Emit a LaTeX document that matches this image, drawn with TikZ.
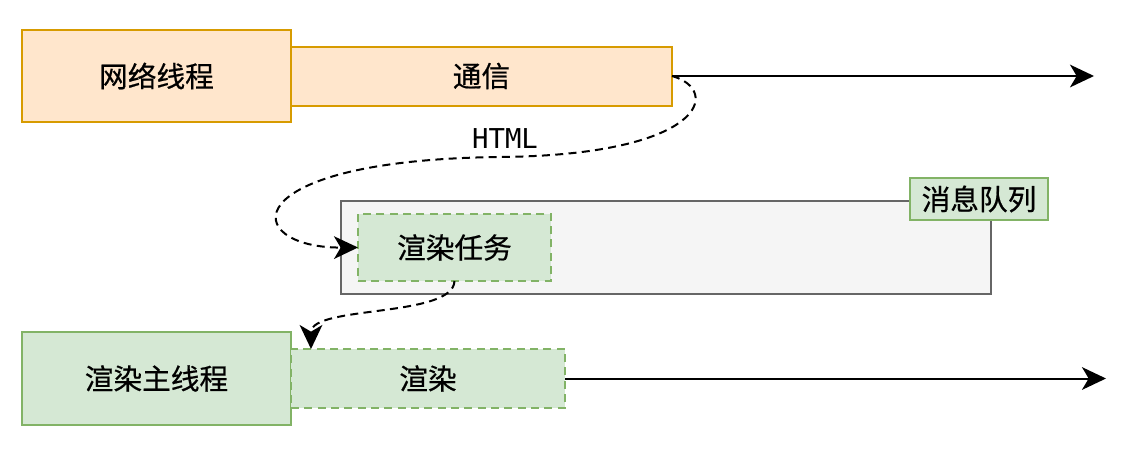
\documentclass[tikz,border=0pt]{standalone}
\usepackage{fontspec}
\setmainfont{Noto Sans CJK SC}[FakeBold=0.6]
\newfontfamily\codefont{DejaVu Sans Mono}
\usetikzlibrary{positioning, arrows.meta}

\begin{document}
\begin{tikzpicture}[
  x=0.75pt, y=-0.75pt,
  box/.style={
    draw,
    line width=1.5pt,
    inner sep=0pt,
    outer sep=0pt,
    align=center,
    font=\fontsize{21.5}{24}\selectfont
  },
  net/.style={box},
  rend/.style={box},
  task/.style={rend, dash pattern=on 6pt off 4pt},
  arr/.style={-{Stealth[length=18pt, width=17pt, inset=5pt]}, line width=1.5pt},
  flow/.style={arr, dash pattern=on 6pt off 4pt}
]
\definecolor{netfill}{HTML}{FFE6CC}
\definecolor{netline}{HTML}{D79B00}
\definecolor{rendfill}{HTML}{D5E8D4}
\definecolor{rendline}{HTML}{82B366}
\definecolor{queuefill}{HTML}{F5F5F5}
\definecolor{queueline}{HTML}{666666}
\tikzset{
  net/.append style={fill=netfill, draw=netline},
  rend/.append style={fill=rendfill, draw=rendline}
}

\useasboundingbox (0,0) rectangle (1127,450);

% network thread
\node[net, minimum width=201.75pt, minimum height=69pt] (netthread) at (156.5,76) {网络线程};
\node[net, minimum width=285.75pt, minimum height=44.25pt, right=0pt of netthread] (comm) {通信};
\coordinate (netend) at (1094,76);

% message queue
\node[box, fill=queuefill, draw=queueline, minimum width=487.5pt, minimum height=69.75pt] (queue) at (666,247.5) {};
\node[rend, minimum width=103.5pt, minimum height=31.5pt] (queuelabel) at (979,199) {消息队列};
\node[task, minimum width=144.75pt, minimum height=50.25pt] (rtask) at (454.5,247.5) {渲染任务};

% render main thread
\node[rend, minimum width=201.75pt, minimum height=69.75pt] (mainthread) at (156.5,378.5) {渲染主线程};
\node[task, minimum width=205.5pt, minimum height=44.25pt, right=0pt of mainthread] (render) {渲染};
\coordinate (rendend) at (1106,378.5);

\draw[arr] (comm.east) -- (netend);
\draw[arr] (render.east) -- (rendend);

\draw[flow] (comm.east) .. controls (722,90) and (705,155) .. (500,157)
  .. controls (230,160) and (240,248) .. (rtask.west);
\node[font=\codefont\fontsize{20.5}{22}\selectfont] (html) at (505,139) {HTML};

\draw[flow] (rtask.south) .. controls (453,318) and (311,305) .. ([xshift=15pt]render.north west);

\end{tikzpicture}
\end{document}
